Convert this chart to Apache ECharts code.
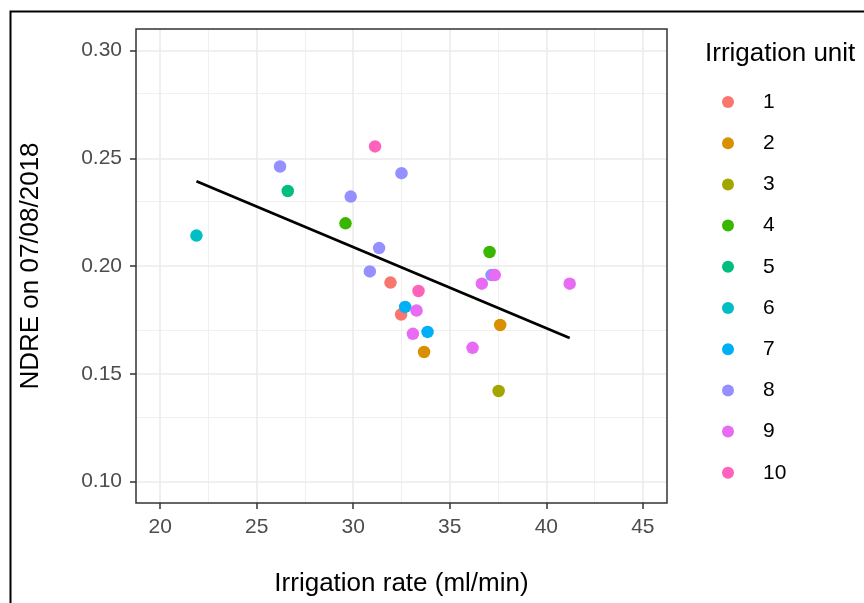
<!DOCTYPE html>
<html>
<head>
<meta charset="utf-8">
<script src="https://cdn.jsdelivr.net/npm/echarts@6/dist/echarts.min.js"></script>
<style>
html,body{margin:0;padding:0;background:#fff;}
#c{width:864px;height:603px;}
</style>
</head>
<body>
<div id="c"></div>
<script>
// ---- data ----
const units = ['1','2','3','4','5','6','7','8','9','10'];
const unitColors = ['#F8766D','#D89000','#A3A500','#39B600','#00BF7D','#00BFC4','#00B0F6','#9590FF','#E76BF3','#FF62BC'];
const unit1 = [[31.93,0.1923],[32.48,0.1775]];
const unit2 = [[37.61,0.1726],[33.67,0.1601]];
const unit3 = [[37.53,0.1420]];
const unit4 = [[29.60,0.2198],[37.06,0.2065]];
const unit5 = [[26.61,0.2348]];
const unit6 = [[21.88,0.2141]];
const unit7 = [[32.69,0.1810],[33.85,0.1694]];
const unit8 = [[26.21,0.2462],[32.50,0.2431],[29.87,0.2322],[31.34,0.2083],[30.86,0.1975],[37.16,0.1958]];
const unit9 = [[37.33,0.1958],[36.66,0.1918],[41.21,0.1918],[33.28,0.1793],[33.09,0.1685],[36.18,0.1620]];
const unit10 = [[31.13,0.2555],[33.38,0.1884]];
const unitData = [unit1,unit2,unit3,unit4,unit5,unit6,unit7,unit8,unit9,unit10];
const trendLine = [[21.88,0.2393],[41.21,0.1666]];
const xTicks = [20,25,30,35,40,45];
const xMinor = [22.5,27.5,32.5,37.5,42.5];
const yTicks = [0.10,0.15,0.20,0.25,0.30];
const yMinor = [0.125,0.175,0.225,0.275];
const xRange = [18.75,46.25];
const yRange = [0.09,0.31];

const FONT = "'Liberation Sans', Arial, sans-serif";

const gridLines = [];
xMinor.forEach(v => gridLines.push({xAxis: v, lineStyle:{color:'#F0F0F0', width:1, type:'solid'}}));
yMinor.forEach(v => gridLines.push({yAxis: v, lineStyle:{color:'#F0F0F0', width:1, type:'solid'}}));
xTicks.forEach(v => gridLines.push({xAxis: v, lineStyle:{color:'#EBEBEB', width:1.6, type:'solid'}}));
yTicks.forEach(v => gridLines.push({yAxis: v, lineStyle:{color:'#EBEBEB', width:1.6, type:'solid'}}));

const series = [{
  type:'line', name:'_grid', data:[], silent:true, z:0,
  markLine:{silent:true, z:0, symbol:'none', label:{show:false}, animation:false,
    lineStyle:{type:'solid'}, emphasis:{disabled:true}, data:gridLines}
}];
units.forEach((u,i) => series.push({
  type:'scatter', name:u, data:unitData[i], symbol:'circle', symbolSize:12.5,
  itemStyle:{color:unitColors[i], opacity:1}, z:10
}));
series.push({
  type:'line', name:'fit', data:trendLine, showSymbol:false, symbol:'none',
  lineStyle:{color:'#000', width:2.8}, z:11, silent:true
});

const chart = echarts.init(document.getElementById('c'), null, {renderer:'canvas'});
chart.setOption({
  animation:false,
  backgroundColor:'#fff',
  grid:{left:136, top:29, right:197, bottom:100, show:true, borderColor:'#333', borderWidth:1.5, backgroundColor:'transparent', z:20},
  xAxis:{
    type:'value', min:xRange[0], max:xRange[1],
    name:'Irrigation rate (ml/min)', nameLocation:'middle', nameGap:68,
    nameTextStyle:{fontFamily:FONT, fontSize:26, color:'#000'},
    axisLine:{show:false},
    axisTick:{show:true, length:6, customValues:xTicks, lineStyle:{color:'#333', width:1.5}},
    axisLabel:{show:true, customValues:xTicks, margin:14, fontFamily:FONT, fontSize:21, color:'#4D4D4D'},
    splitLine:{show:false}
  },
  yAxis:{
    type:'value', min:yRange[0], max:yRange[1],
    name:'NDRE on 07/08/2018', nameLocation:'middle', nameGap:92,
    nameTextStyle:{fontFamily:FONT, fontSize:26, color:'#000'},
    axisLine:{show:false},
    axisTick:{show:true, length:6, customValues:yTicks, lineStyle:{color:'#333', width:1.5}},
    axisLabel:{show:true, customValues:yTicks, margin:14, fontFamily:FONT, fontSize:21, color:'#4D4D4D',
      formatter:v => v.toFixed(2)},
    splitLine:{show:false}
  },
  title:{text:'Irrigation unit', left:705, top:41, padding:0,
    textStyle:{fontFamily:FONT, fontSize:26, fontWeight:'normal', color:'#000'}},
  legend:{
    data:units, orient:'vertical', left:722, top:91.5, padding:0,
    itemWidth:12, itemHeight:12, itemGap:20.2, icon:'circle',
    textStyle:{fontFamily:FONT, fontSize:21, color:'#000', lineHeight:21, padding:[0,0,0,24]}
  },
  graphic:[{type:'rect', left:8, top:9, shape:{width:900, height:700}, style:{fill:'none', stroke:'#000', lineWidth:2}, silent:true}],
  series:series
});
</script>
</body>
</html>
